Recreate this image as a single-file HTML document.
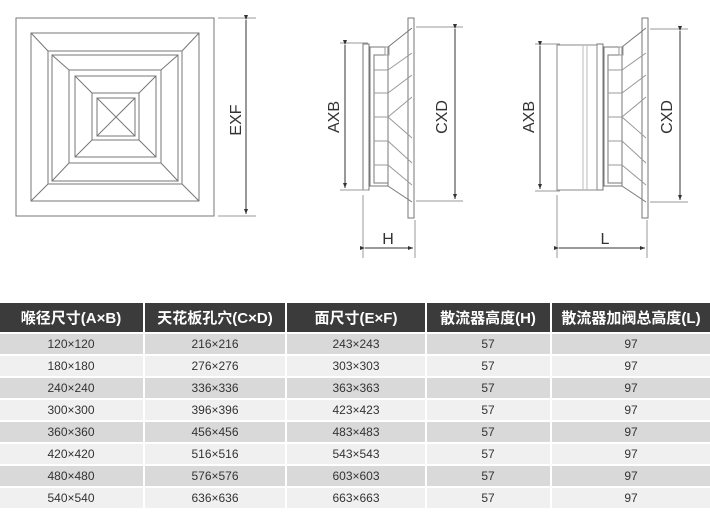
<!DOCTYPE html>
<html><head><meta charset="utf-8"><style>
body{margin:0;background:#fff;width:710px;height:522px;overflow:hidden;font-family:"Liberation Sans","Noto Sans CJK SC",sans-serif}
svg{position:absolute;left:0;top:0}
</style></head><body>
<svg width="710" height="522" viewBox="0 0 710 522" xmlns="http://www.w3.org/2000/svg">
<defs>
<marker id="a" markerWidth="6" markerHeight="6" refX="5" refY="3" orient="auto"><path d="M0,1 L5,3 L0,5z" fill="#333"/></marker>
</defs>
<g fill="none" stroke="#777" stroke-width="1">
<rect x="16" y="18" width="198" height="198"/>
<rect x="31" y="33" width="168" height="168"/>
<rect x="48" y="51" width="134" height="133"/>
<rect x="52" y="55" width="126" height="126"/>
<rect x="69" y="70" width="92" height="93"/>
<rect x="75" y="76" width="81" height="81"/>
<rect x="92" y="93" width="47" height="47"/>
<rect x="97" y="98" width="38" height="38"/>
<path d="M31,33 L48,51 M199,33 L182,51 M31,201 L48,184 M199,201 L182,184"/>
<path d="M52,55 L69,70 M178,55 L161,70 M52,181 L69,163 M178,181 L161,163"/>
<path d="M75,76 L92,93 M156,76 L139,93 M75,157 L92,140 M156,157 L139,140"/>
<path d="M97,98 L135,136 M135,98 L97,136"/>
<path d="M218,18 L256,18 M218,216 L256,216" stroke="#999"/>
</g>
<line x1="246" y1="20" x2="246" y2="214" stroke="#333" marker-start="url(#a)" marker-end="url(#a)"/>
<text transform="translate(241,120) rotate(-90)" font-size="16" text-anchor="middle" fill="#333">EXF</text>

<g id="side" fill="none" stroke="#777">
<rect x="363" y="44" width="6" height="146"/>
<rect x="370" y="47" width="18" height="139"/>
<rect x="374" y="55" width="14" height="128"/>
<rect x="385" y="47" width="4" height="8" stroke="#999"/>
<path d="M388,47 L412,28 M388,186 L412,202"/>
<rect x="408" y="18" width="6" height="200"/>
<path d="M374,70 L388,70 M374,93 L388,93 M374,117 L388,117 M374,141 L388,141 M374,165 L388,165" stroke="#999"/>
<path d="M388,70 L412,53 M388,93 L412,75 M388,117 L412,97 M388,117 L412,138 M388,141 L412,163 M388,165 L412,185" stroke="#999"/>
</g>
<g stroke="#999" fill="none">
<path d="M340,43 L368,43 M340,190 L368,190 M416,27 L463,27 M416,201 L463,201 M363,195 L363,258 M415,220 L415,258"/>
</g>
<g stroke="#333">
<line x1="345" y1="45" x2="345" y2="188" marker-start="url(#a)" marker-end="url(#a)"/>
<line x1="455" y1="29" x2="455" y2="199" marker-start="url(#a)" marker-end="url(#a)"/>
<line x1="365" y1="248" x2="413" y2="248" marker-start="url(#a)" marker-end="url(#a)"/>
</g>
<text transform="translate(339,117) rotate(-90)" font-size="16" text-anchor="middle" fill="#333">AXB</text>
<text transform="translate(447,117) rotate(-90)" font-size="16" text-anchor="middle" fill="#333">CXD</text>
<text x="388" y="244" font-size="16" text-anchor="middle" fill="#333">H</text>

<use href="#side" transform="translate(234,0)"/>
<g fill="none" stroke="#888">
<rect x="557" y="45" width="40" height="145"/>
<path d="M583,45 L583,190 M587,45 L587,190" stroke="#bbb"/>
</g>
<g stroke="#999" fill="none">
<path d="M535,44 L560,44 M535,191 L560,191 M650,29 L688,29 M650,202 L688,202 M557,195 L557,258 M647,220 L647,258"/>
</g>
<g stroke="#333">
<line x1="540" y1="46" x2="540" y2="189" marker-start="url(#a)" marker-end="url(#a)"/>
<line x1="680" y1="31" x2="680" y2="200" marker-start="url(#a)" marker-end="url(#a)"/>
<line x1="559" y1="248" x2="645" y2="248" marker-start="url(#a)" marker-end="url(#a)"/>
</g>
<text transform="translate(534,117) rotate(-90)" font-size="16" text-anchor="middle" fill="#333">AXB</text>
<text transform="translate(672,117) rotate(-90)" font-size="16" text-anchor="middle" fill="#333">CXD</text>
<text x="605" y="244" font-size="16" text-anchor="middle" fill="#333">L</text>

<g fill="#3b3b3b">
<rect x="0" y="303" width="143" height="29"/>
<rect x="145" y="303" width="140" height="29"/>
<rect x="287" y="303" width="138" height="29"/>
<rect x="427" y="303" width="123" height="29"/>
<rect x="552" y="303" width="158" height="29"/>
</g>
<g font-size="15" font-weight="bold" fill="#fff" text-anchor="middle">
<text x="71" y="323">喉径尺寸(A×B)</text>
<text x="215" y="323">天花板孔穴(C×D)</text>
<text x="356" y="323">面尺寸(E×F)</text>
<text x="488" y="323">散流器高度(H)</text>
<text x="631" y="323">散流器加阀总高度(L)</text>
</g>
<g fill="#d9d9d9">
<rect x="0" y="334" width="710" height="20"/>
<rect x="0" y="378" width="710" height="20"/>
<rect x="0" y="422" width="710" height="20"/>
<rect x="0" y="466" width="710" height="20"/>
</g>
<g fill="#f0f0f0">
<rect x="0" y="356" width="710" height="20"/>
<rect x="0" y="400" width="710" height="20"/>
<rect x="0" y="444" width="710" height="20"/>
<rect x="0" y="488" width="710" height="20"/>
</g>
<g fill="#fff">
<rect x="143" y="334" width="2" height="174"/>
<rect x="285" y="334" width="2" height="174"/>
<rect x="425" y="334" width="2" height="174"/>
<rect x="550" y="334" width="2" height="174"/>
</g>
<g font-size="12" fill="#333" text-anchor="middle">
<text x="71" y="348">120×120</text><text x="215" y="348">216×216</text><text x="356" y="348">243×243</text><text x="488" y="348">57</text><text x="631" y="348">97</text>
<text x="71" y="370">180×180</text><text x="215" y="370">276×276</text><text x="356" y="370">303×303</text><text x="488" y="370">57</text><text x="631" y="370">97</text>
<text x="71" y="392">240×240</text><text x="215" y="392">336×336</text><text x="356" y="392">363×363</text><text x="488" y="392">57</text><text x="631" y="392">97</text>
<text x="71" y="414">300×300</text><text x="215" y="414">396×396</text><text x="356" y="414">423×423</text><text x="488" y="414">57</text><text x="631" y="414">97</text>
<text x="71" y="436">360×360</text><text x="215" y="436">456×456</text><text x="356" y="436">483×483</text><text x="488" y="436">57</text><text x="631" y="436">97</text>
<text x="71" y="458">420×420</text><text x="215" y="458">516×516</text><text x="356" y="458">543×543</text><text x="488" y="458">57</text><text x="631" y="458">97</text>
<text x="71" y="480">480×480</text><text x="215" y="480">576×576</text><text x="356" y="480">603×603</text><text x="488" y="480">57</text><text x="631" y="480">97</text>
<text x="71" y="502">540×540</text><text x="215" y="502">636×636</text><text x="356" y="502">663×663</text><text x="488" y="502">57</text><text x="631" y="502">97</text>
</g>
</svg>
</body></html>
